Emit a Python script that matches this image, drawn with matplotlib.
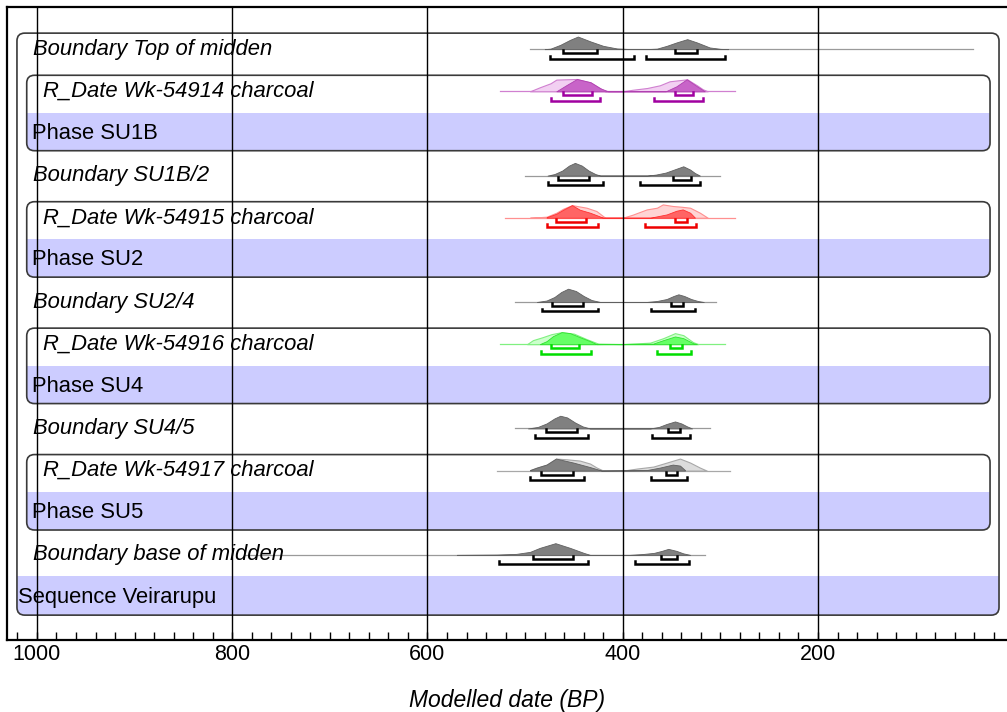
import matplotlib
matplotlib.use("Agg")
import matplotlib.pyplot as plt
from matplotlib.patches import FancyBboxPatch, Rectangle

plt.rcParams['font.family'] = ['Liberation Sans', 'DejaVu Sans']

# Row labels, top to bottom
row_labels = [
    "Boundary Top of midden", "R_Date Wk-54914 charcoal", "Phase SU1B",
    "Boundary SU1B/2", "R_Date Wk-54915 charcoal", "Phase SU2",
    "Boundary SU2/4", "R_Date Wk-54916 charcoal", "Phase SU4",
    "Boundary SU4/5", "R_Date Wk-54917 charcoal", "Phase SU5",
    "Boundary base of midden", "Sequence Veirarupu",
]
row_kinds = ["boundary", "rdate", "phase"] * 4 + ["boundary", "sequence"]

# --- Boundary Top of midden (row 0) ---
top_line = [495, 41]
top_bp = [480, 474, 464, 454, 446, 433, 420, 406, 395, 372, 365, 355, 345, 334, 324, 311, 300, 292]
top_h = [0, 0.5, 4.3, 9.3, 12.6, 7.7, 3.3, 0.7, 0.2, 0.2, 0.5, 3.3, 6.7, 10, 6.7, 1.7, 0.3, 0]
top_68 = [(461, 426), (346, 324)]
top_95 = [(475, 388), (376, 295)]

# --- R_Date Wk-54914 (row 1) ---
wk14_line = [526, 285]
wk14_like_bp = [495, 485, 474, 468, 458, 447, 433, 423, 418, 400, 390, 375, 362, 352, 334, 324, 318, 313]
wk14_like_h = [0, 4, 8, 11.7, 12, 12.3, 9, 3, 0, 0, 1.5, 3.3, 6, 10, 12, 6, 2, 0]
wk14_post_bp = [468, 458, 447, 433, 423, 415, 356, 345, 334.5, 324, 316]
wk14_post_h = [0, 6, 12.3, 9, 3, 0, 0, 5, 12, 5, 0]
wk14_68 = [(461.5, 432), (346, 328)]
wk14_95 = [(474, 423), (368, 317.5)]

# --- Boundary SU1B/2 (row 3) ---
b12_line = [500, 300]
b12_bp = [477, 470, 462, 455, 449, 442, 435, 428, 423, 375, 366, 356, 346, 338, 331, 326, 321]
b12_h = [0, 1.5, 5, 10, 12.7, 10, 5, 1.5, 0, 0, 1, 3, 6.5, 9.3, 6, 2.5, 0]
b12_68 = [(466, 435), (349, 330)]
b12_95 = [(477, 420), (382, 321)]

# --- R_Date Wk-54915 (row 4) ---
wk15_line = [521, 285]
wk15_like_bp = [495, 478, 468, 461, 452, 437, 427, 418, 400, 390, 375.5, 365, 359, 348.5, 340, 331, 321, 313]
wk15_like_h = [0, 1, 5, 9, 12.6, 10, 6.7, 0, 0, 3, 8.3, 10, 13.3, 11.7, 11, 10, 5, 0]
wk15_post_bp = [478, 468, 461, 452, 444, 433.5, 420, 372, 355, 345, 338.6, 331, 326]
wk15_post_h = [0.5, 4, 8, 12.6, 8, 5, 0, 0, 3.3, 7, 8.3, 5, 0]
wk15_68 = [(468, 438), (346.5, 334.5)]
wk15_95 = [(478, 425), (377, 325)]

# --- Boundary SU2/4 (row 6) ---
b24_line = [510, 305]
b24_bp = [488, 478, 470, 463, 456, 448, 440, 432, 423, 376, 365, 355, 348, 343, 337, 330, 323, 317]
b24_h = [0, 1.5, 5, 10, 13.3, 11, 6, 2, 0, 0, 1, 3, 6, 7.7, 6, 3, 1, 0]
b24_68 = [(472, 441), (350.6, 338.6)]
b24_95 = [(483, 425), (371, 326)]

# --- R_Date Wk-54916 (row 7) ---
wk16_line = [526, 295]
wk16_like_bp = [498, 492, 482, 473, 462.6, 450, 437, 425, 400, 372, 358.5, 346.5, 338, 328, 322.6]
wk16_like_h = [0, 4, 7, 10, 12, 10.5, 5, 0.5, 0, 1.5, 6, 11, 9, 2, 0]
wk16_post_bp = [485, 478, 471.5, 462.6, 454, 444, 433.5, 426.7, 369, 358.5, 346.5, 338, 328, 324]
wk16_post_h = [0, 3, 8, 12, 11, 7, 3, 0, 0.5, 4, 7.7, 6, 1, 0]
wk16_68 = [(474, 444.5), (351.6, 339.6)]
wk16_95 = [(484, 432.5), (365, 330.4)]

# --- Boundary SU4/5 (row 9) ---
b45_line = [510, 311]
b45_bp = [497, 487, 478, 470, 464, 457, 449, 441, 433.5, 372, 363, 355, 346.5, 340, 334, 329]
b45_h = [0, 1.5, 5, 10, 12.7, 11, 6, 2, 0, 0, 1.5, 4.5, 7, 5, 2, 0]
b45_68 = [(478.6, 446.6), (354, 341.4)]
b45_95 = [(490, 435.3), (369.7, 331)]

# --- R_Date Wk-54917 (row 10) ---
wk17_line = [529, 290]
wk17_like_bp = [495, 488, 478, 468.4, 457.5, 444, 433.5, 426.7, 420, 399.5, 385.7, 368.7, 355, 341.4, 331, 321, 314]
wk17_like_h = [0.5, 3, 6, 12, 11.3, 10, 7, 3, 0, 0, 2, 4, 8, 12, 8, 3, 0]
wk17_post_bp = [495, 488, 478, 468.4, 450.6, 433.5, 421.6, 375.5, 362, 348.8, 341.4, 336.3]
wk17_post_h = [0.5, 3, 6, 12, 8, 3.5, 0, 0.5, 3, 6, 5, 0.5]
wk17_68 = [(483.7, 450.6), (356, 344.8)]
wk17_95 = [(495, 439.7), (371, 333.9)]

# --- Boundary base of midden (row 12) ---
base_line = [787, 316]
base_bp = [570, 529, 509, 495, 485, 469, 454, 440, 433.5, 393, 380, 368, 360, 353.4, 345, 338, 331]
base_h = [0, 0.3, 1, 3, 7, 11.7, 7, 2, 0, 0, 0.8, 2, 4, 6, 4, 1.5, 0]
base_68 = [(491.6, 450.6), (360.8, 344.8)]
base_95 = [(526.5, 436), (387.5, 331.8)]

# colours: (dark fill, dark edge, light fill, light edge, bracket)
grey = ("#808080", "#606060", "#dcdcdc", "#a8a8a8", "#000000")
purple = ("#c864c8", "#b040b0", "#f2d0f2", "#d080d0", "#a000a0")
red = ("#ff6464", "#ff3030", "#ffd4d4", "#ff9090", "#ee0000")
green = ("#66ff66", "#30e030", "#ccffcc", "#80f080", "#00dd00")

boundaries = [
    (0, top_line, top_bp, top_h, top_68, top_95),
    (3, b12_line, b12_bp, b12_h, b12_68, b12_95),
    (6, b24_line, b24_bp, b24_h, b24_68, b24_95),
    (9, b45_line, b45_bp, b45_h, b45_68, b45_95),
    (12, base_line, base_bp, base_h, base_68, base_95),
]
rdates = [
    (1, wk14_line, wk14_like_bp, wk14_like_h, wk14_post_bp, wk14_post_h, wk14_68, wk14_95, purple),
    (4, wk15_line, wk15_like_bp, wk15_like_h, wk15_post_bp, wk15_post_h, wk15_68, wk15_95, red),
    (7, wk16_line, wk16_like_bp, wk16_like_h, wk16_post_bp, wk16_post_h, wk16_68, wk16_95, green),
    (10, wk17_line, wk17_like_bp, wk17_like_h, wk17_post_bp, wk17_post_h, wk17_68, wk17_95, grey),
]

SCALE = 1 / 42.15      # curve height units -> rows
X_LEFT, X_RIGHT = 1030.7, 5.4
PX_PER_YR = 0.97625
ROW_PX = 42.15

fig = plt.figure(figsize=(10.07, 7.12), dpi=100)
ax = fig.add_axes([7 / 1007, 1 - 640 / 712, 1001 / 1007, 633 / 712])
ax.set_xlim(X_LEFT, X_RIGHT)
ax.set_ylim(14.02, -1.0)

aspect = (1 / ROW_PX) / (1 / PX_PER_YR)


def rounded_box(x0, x1, y0, y1, face="none", z=1):
    p = FancyBboxPatch((x1, y0), x0 - x1, y1 - y0,
                       boxstyle="round,pad=0,rounding_size=8",
                       mutation_aspect=aspect, facecolor=face,
                       edgecolor="#3a3a3a", lw=1.2, zorder=z)
    ax.add_patch(p)
    return p


def band(box, x0, x1, y0, y1):
    r = Rectangle((x1, y0), x0 - x1, y1 - y0, facecolor="#ccccff",
                  edgecolor="none", zorder=1)
    ax.add_patch(r)
    r.set_clip_path(box)


# outer sequence box and band
outer = rounded_box(1020.5, 14.6, -0.38, 13.43, z=2)
band(outer, 1020.5, 14.6, 13 - 0.49, 13.43)

# phase boxes and bands
for r in [1, 4, 7, 10]:
    box = rounded_box(1010.5, 23.8, r - 0.38, r + 1.41, z=2)
    band(box, 1010.5, 23.8, r + 1 - 0.49, r + 1.41)


def brackets(row, ranges68, ranges95, color):
    for ranges, off in [(ranges68, 0.095), (ranges95, 0.225)]:
        for a, b in ranges:
            y = row + off
            ax.plot([a, a, b, b], [y - 0.07, y, y, y - 0.07], color=color,
                    lw=1.8, solid_joinstyle="miter", zorder=5)


for row, line, bp, h, r68, r95 in boundaries:
    ax.plot(line, [row, row], color="#9a9a9a", lw=0.9, zorder=3)
    ax.fill_between(bp, [row - v * SCALE for v in h], row,
                    facecolor=grey[0], edgecolor=grey[1], lw=0.6, zorder=4)
    brackets(row, r68, r95, grey[4])

for row, line, lbp, lh, pbp, ph, r68, r95, col in rdates:
    ax.plot(line, [row, row], color=col[3], lw=0.9, zorder=3)
    ax.fill_between(lbp, [row - v * SCALE for v in lh], row,
                    facecolor=col[2], edgecolor=col[3], lw=0.8, zorder=3.5)
    ax.fill_between(pbp, [row - v * SCALE for v in ph], row,
                    facecolor=col[0], edgecolor=col[1], lw=0.6, zorder=4)
    brackets(row, r68, r95, col[4])

# labels
label_x = {"boundary": 1004.1, "rdate": 993.9, "phase": 1004.6, "sequence": 1019.5}
for i, (txt, kind) in enumerate(zip(row_labels, row_kinds)):
    style = "italic" if kind in ("boundary", "rdate") else "normal"
    ax.text(label_x[kind], i, txt, fontsize=15.8, fontstyle=style,
            ha="left", va="center", zorder=6)

# vertical grid lines on top
for g in [1000, 800, 600, 400, 200]:
    ax.axvline(g, color="black", lw=1.0, zorder=10)

ax.set_yticks([])
ax.set_xticks([1000, 800, 600, 400, 200])
ax.set_xticks(range(20, 1021, 20), minor=True)
ax.tick_params(axis="x", which="both", direction="in", length=6, width=1,
               labelsize=15.5, pad=3)
for s in ["left", "top", "bottom"]:
    ax.spines[s].set_linewidth(1.6)
ax.spines["right"].set_visible(False)
ax.set_xlabel("Modelled date (BP)", fontsize=16.5, fontstyle="italic", labelpad=17)

fig.savefig("out.png", dpi=100)
